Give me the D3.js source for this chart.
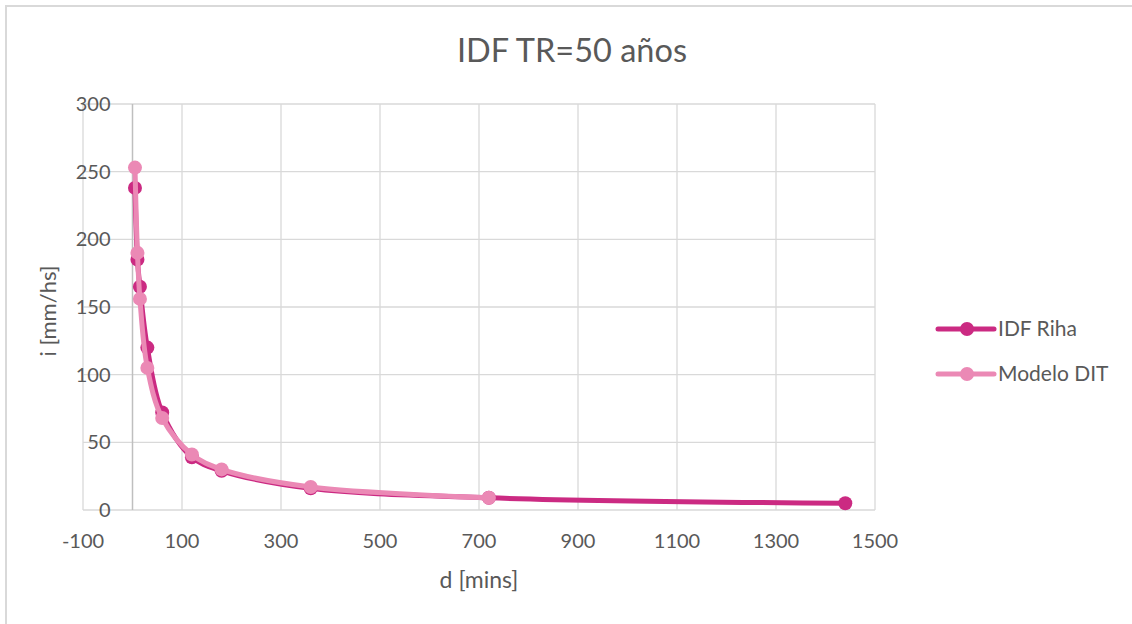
<!DOCTYPE html>
<html><head><meta charset="utf-8">
<script src="https://cdn.jsdelivr.net/npm/d3@7"></script>
<style>body{margin:0;background:#fff}svg{display:block}</style>
</head><body>
<svg id="c" width="1132" height="624"></svg>
<script>
const durations = [5, 10, 15, 30, 60, 120, 180, 360, 720, 1440];
const idfRiha = [238, 185, 165, 120, 72, 39, 29, 16, 9, 5];
const modeloDurations = [5, 10, 15, 30, 60, 120, 180, 360, 720];
const modeloDIT = [253, 190, 156, 105, 68, 41, 30, 17, 9];
const xTicks = [-100, 100, 300, 500, 700, 900, 1100, 1300, 1500];
const yTicks = [0, 50, 100, 150, 200, 250, 300];
const seriesNames = ["IDF Riha", "Modelo DIT"];
const colors = ["#CB2A82", "#EB89B5"];

const font = "Lato, 'Open Sans', sans-serif";
const svg = d3.select("#c");
svg.append("rect").attr("x",6).attr("y",6).attr("width",1140).attr("height",640)
  .attr("fill","#fff").attr("stroke","#d9d9d9").attr("stroke-width",2);

const x = d3.scaleLinear().domain([-100,1500]).range([83,875]);
const y = d3.scaleLinear().domain([0,300]).range([510,104]);

const g = svg.append("g");
g.selectAll(".hg").data(yTicks).join("line")
  .attr("x1",x(-100)).attr("x2",x(1500)).attr("y1",d=>y(d)).attr("y2",d=>y(d))
  .attr("stroke","#d9d9d9").attr("stroke-width",1.3);
g.selectAll(".vg").data(xTicks).join("line")
  .attr("x1",d=>x(d)).attr("x2",d=>x(d)).attr("y1",y(0)).attr("y2",y(300))
  .attr("stroke","#d9d9d9").attr("stroke-width",1.3);
g.append("line").attr("x1",x(0)).attr("x2",x(0)).attr("y1",y(0)).attr("y2",y(300))
  .attr("stroke","#bfbfbf").attr("stroke-width",1.5);

g.selectAll(".yl").data(yTicks).join("text")
  .attr("x",x(0)-22).attr("y",d=>y(d)).attr("dy","0.35em").attr("text-anchor","end")
  .attr("font-family",font).attr("font-size",20).attr("fill","#595959").text(d=>d);
g.selectAll(".xl").data(xTicks).join("text")
  .attr("x",d=>x(d)).attr("y",548).attr("text-anchor","middle")
  .attr("font-family",font).attr("font-size",20).attr("fill","#595959").text(d=>d);

svg.append("text").attr("x",479).attr("y",588).attr("text-anchor","middle")
  .attr("font-family",font).attr("font-size",23).attr("fill","#595959").text("d [mins]");
svg.append("text").attr("transform","translate(56,311) rotate(-90)").attr("text-anchor","middle")
  .attr("font-family",font).attr("font-size",22).attr("fill","#595959").text("i [mm/hs]");
svg.append("text").attr("x",572).attr("y",62).attr("text-anchor","middle")
  .attr("font-family",font).attr("font-size",32.5).attr("fill","#595959").text("IDF TR=50 años");

const line = d3.line().x(d=>x(d[0])).y(d=>y(d[1])).curve(d3.curveCatmullRom.alpha(0.5));
const series = [
  durations.map((d,i)=>[d, idfRiha[i]]),
  modeloDurations.map((d,i)=>[d, modeloDIT[i]])
];
series.forEach((s,k)=>{
  svg.append("path").datum(s).attr("d",line).attr("fill","none")
    .attr("stroke",colors[k]).attr("stroke-width",5).attr("stroke-linejoin","round");
  svg.selectAll(".m"+k).data(s).join("circle")
    .attr("cx",d=>x(d[0])).attr("cy",d=>y(d[1])).attr("r",7).attr("fill",colors[k]);
});

seriesNames.forEach((n,k)=>{
  const ly = 329 + k*45;
  svg.append("line").attr("x1",938).attr("x2",994).attr("y1",ly).attr("y2",ly)
    .attr("stroke",colors[k]).attr("stroke-width",5).attr("stroke-linecap","round");
  svg.append("circle").attr("cx",967).attr("cy",ly).attr("r",7).attr("fill",colors[k]);
  svg.append("text").attr("x",998).attr("y",ly).attr("dy","0.35em")
    .attr("font-family",font).attr("font-size",21).attr("fill","#595959").text(n);
});
</script>
</body></html>
